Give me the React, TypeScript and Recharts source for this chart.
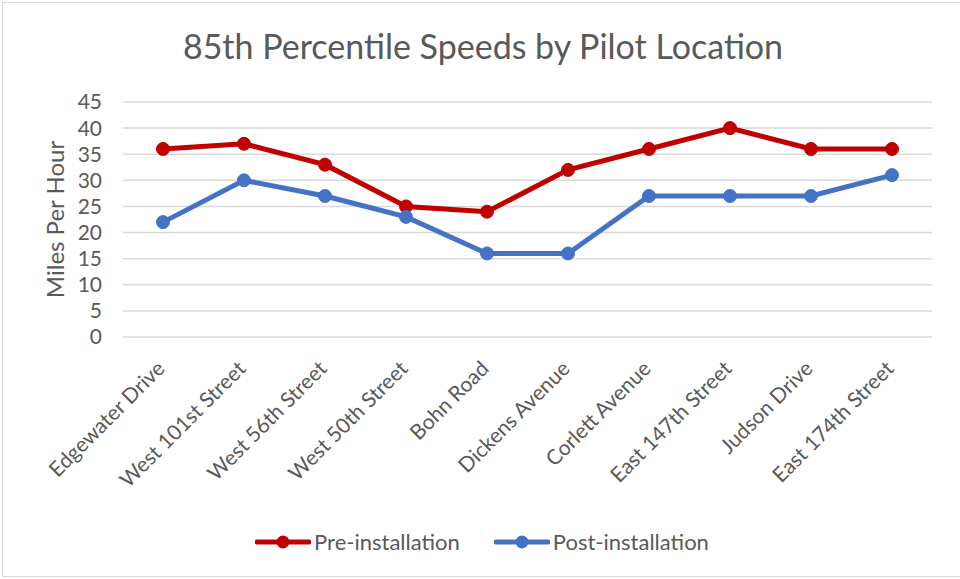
import { LineChart, Line, XAxis, YAxis, CartesianGrid, Legend, Label } from "recharts";

const locations = [
  "Edgewater Drive",
  "West 101st Street",
  "West 56th Street",
  "West 50th Street",
  "Bohn Road",
  "Dickens Avenue",
  "Corlett Avenue",
  "East 147th Street",
  "Judson Drive",
  "East 174th Street",
];
const preInstall = [36, 37, 33, 25, 24, 32, 36, 40, 36, 36];
const postInstall = [22, 30, 27, 23, 16, 16, 27, 27, 27, 31];
const yTicks = [0, 5, 10, 15, 20, 25, 30, 35, 40, 45];

const FONT = "Lato, 'Open Sans', sans-serif";
const TEXT = "#595959";
const RED = "#C00000";
const BLUE = "#4472C4";

const data = locations.map((name, i) => ({
  name,
  pre: preInstall[i],
  post: postInstall[i],
}));

const AngledTick = ({ x, y, payload }: any) => (
  <text
    transform={`translate(${x - 3}, ${y + 19}) rotate(-45)`}
    textAnchor="end"
    dominantBaseline="central"
    fill={TEXT}
    fontSize={21}
    fontFamily={FONT}
  >
    {payload.value}
  </text>
);

const LegendContent = () => {
  const items = [
    { label: "Pre-installation", color: RED },
    { label: "Post-installation", color: BLUE },
  ];
  return (
    <div style={{ display: "flex", justifyContent: "center", gap: 34 }}>
      {items.map((it) => (
        <div key={it.label} style={{ display: "flex", alignItems: "center" }}>
          <svg width={56} height={16}>
            <line x1={2} y1={8} x2={54} y2={8} stroke={it.color} strokeWidth={5} strokeLinecap="round" />
            <circle cx={28} cy={8} r={6.5} fill={it.color} />
          </svg>
          <span style={{ marginLeft: 3, color: TEXT, fontSize: 22, fontFamily: FONT }}>{it.label}</span>
        </div>
      ))}
    </div>
  );
};

export default function App() {
  return (
    <div
      style={{
        position: "absolute",
        left: 0,
        top: 0,
        width: 960,
        height: 579,
        background: "#fff",
        fontFamily: FONT,
      }}
    >
      <div
        style={{
          position: "absolute",
          left: 2,
          top: 2,
          width: 960,
          height: 575,
          border: "1px solid #D9D9D9",
          boxSizing: "border-box",
        }}
      />
      <div
        style={{
          position: "absolute",
          top: 25,
          left: 0,
          width: 966,
          textAlign: "center",
          fontSize: 34,
          color: TEXT,
          fontFamily: FONT,
        }}
      >
        85th Percentile Speeds by Pilot Location
      </div>
      <div style={{ position: "absolute", left: 0, top: 0 }}>
        <LineChart
          width={960}
          height={579}
          data={data}
          margin={{ top: 102, right: 28, bottom: 115, left: 0 }}
        >
          <CartesianGrid horizontal vertical={false} stroke="#D9D9D9" strokeWidth={1.5} />
          <XAxis
            dataKey="name"
            axisLine={false}
            tickLine={false}
            interval={0}
            height={100}
            padding={{ left: 40, right: 40 }}
            tick={<AngledTick />}
          />
          <YAxis
            domain={[0, 45]}
            ticks={yTicks}
            interval={0}
            width={123}
            axisLine={false}
            tickLine={false}
            tickSize={0}
            tickMargin={21}
            tick={{ fill: TEXT, fontSize: 21, fontFamily: FONT }}
          >
            <Label
              value="Miles Per Hour"
              angle={-90}
              position="center"
              dx={-6}
              style={{ fill: TEXT, fontSize: 24, fontFamily: FONT, textAnchor: "middle" }}
            />
          </YAxis>
          <Legend
            content={<LegendContent />}
            wrapperStyle={{ position: "absolute", top: 528, left: 0, width: 964 }}
          />
          <Line
            dataKey="pre"
            name="Pre-installation"
            stroke={RED}
            strokeWidth={5}
            dot={{ r: 6.5, fill: RED, stroke: RED, strokeWidth: 1 }}
            isAnimationActive={false}
          />
          <Line
            dataKey="post"
            name="Post-installation"
            stroke={BLUE}
            strokeWidth={5}
            dot={{ r: 6.5, fill: BLUE, stroke: BLUE, strokeWidth: 1 }}
            isAnimationActive={false}
          />
        </LineChart>
      </div>
    </div>
  );
}
